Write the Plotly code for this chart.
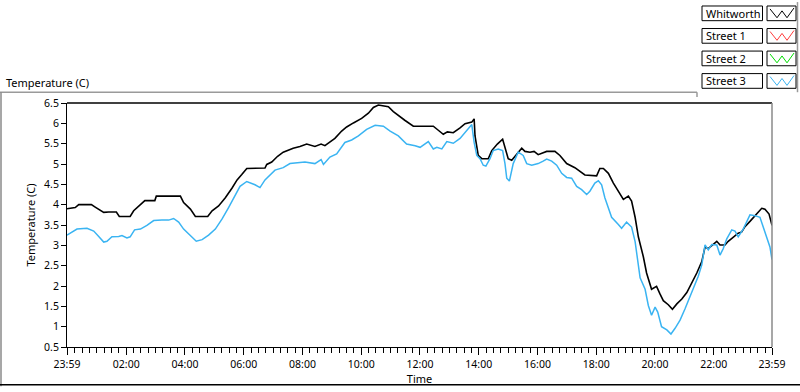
import plotly.graph_objects as go

# ---------------- data (hours after 23:59 start, temperature in C) ----------------
whitworth_t = [0, 0.28, 0.40, 0.83, 0.96, 1.13, 1.25, 1.42, 1.68, 1.78, 2.15, 2.27, 2.50, 2.65, 2.99,
               3.04, 3.86, 3.97, 4.20, 4.37, 4.79, 4.94, 5.16, 5.39, 5.62, 5.79, 5.95, 6.12, 6.74, 6.80,
               6.97, 7.17, 7.36, 7.70, 7.93, 8.16, 8.44, 8.65, 8.78, 8.90, 9.12, 9.35, 9.52, 9.75, 10.03,
               10.26, 10.43, 10.60, 10.94, 11.11, 11.28, 11.51, 11.79, 12.47, 12.64, 12.81, 12.95, 13.15,
               13.38, 13.55, 13.78, 13.86, 13.89, 13.95, 14.00, 14.12, 14.34, 14.46, 14.65, 14.83, 14.91,
               15.02, 15.14, 15.31, 15.48, 15.59, 15.76, 15.90, 16.04, 16.33, 16.61, 16.78, 17.01, 17.29,
               17.46, 17.63, 18.03, 18.14, 18.26, 18.43, 18.60, 18.83, 18.94, 19.11, 19.22, 19.34, 19.45,
               19.62, 19.73, 19.90, 20.07, 20.19, 20.30, 20.47, 20.61, 20.76, 20.93, 21.10, 21.27, 21.44,
               21.61, 21.72, 21.83, 22.00, 22.12, 22.23, 22.40, 22.51, 22.68, 22.85, 22.97, 23.08, 23.25,
               23.42, 23.56, 23.65, 23.76, 23.90, 24.00]
whitworth_v = [3.90, 3.93, 4.00, 4.00, 3.94, 3.86, 3.81, 3.82, 3.82, 3.71, 3.71, 3.85, 3.99, 4.10, 4.10,
               4.21, 4.21, 4.05, 3.89, 3.71, 3.71, 3.85, 3.97, 4.17, 4.41, 4.61, 4.74, 4.89, 4.90, 4.99,
               5.05, 5.19, 5.29, 5.39, 5.43, 5.49, 5.43, 5.49, 5.45, 5.51, 5.63, 5.81, 5.91, 6.01, 6.12,
               6.25, 6.39, 6.45, 6.41, 6.29, 6.19, 6.07, 5.93, 5.93, 5.83, 5.73, 5.79, 5.77,
               5.89, 5.99, 6.03, 6.11, 5.69, 5.45, 5.21, 5.13, 5.13, 5.33, 5.49, 5.61, 5.41,
               5.13, 5.09, 5.25, 5.39, 5.31, 5.29, 5.31, 5.23, 5.31, 5.31, 5.21, 5.01, 4.91,
               4.82, 4.73, 4.71, 4.89, 4.89, 4.77, 4.53, 4.25, 4.13, 4.21, 4.09, 3.69, 3.21,
               2.72, 2.32, 1.92, 1.99, 1.80, 1.64, 1.54, 1.43, 1.56, 1.68, 1.84, 2.08, 2.32,
               2.60, 2.96, 2.92, 3.04, 3.10, 3.01, 3.01, 3.10, 3.21, 3.30, 3.33, 3.46, 3.59,
               3.73, 3.85, 3.91, 3.89, 3.77, 3.49]

street3_t = [0, 0.17, 0.34, 0.68, 0.91, 1.08, 1.25, 1.36, 1.53, 1.76, 1.87, 2.04, 2.15, 2.30, 2.50,
             2.72, 2.95, 3.23, 3.46, 3.63, 3.80, 3.97, 4.20, 4.40, 4.60, 4.82, 5.05, 5.28, 5.50, 5.73,
             5.89, 6.12, 6.40, 6.57, 6.74, 7.08, 7.36, 7.59, 7.93, 8.10, 8.44, 8.65, 8.73, 8.95, 9.18,
             9.46, 9.69, 9.92, 10.20, 10.49, 10.77, 11.00, 11.28, 11.56, 11.85, 12.02, 12.30, 12.47,
             12.59, 12.76, 12.93, 13.15, 13.38, 13.61, 13.78, 13.86, 13.95, 14.06, 14.17, 14.26, 14.40,
             14.51, 14.68, 14.83, 14.91, 14.97, 15.06, 15.19, 15.36, 15.53, 15.65, 15.82, 16.04, 16.21,
             16.33, 16.50, 16.67, 16.84, 17.01, 17.18, 17.35, 17.52, 17.69, 17.80, 17.97, 18.09, 18.20,
             18.31, 18.43, 18.54, 18.77, 18.88, 19.05, 19.22, 19.34, 19.43, 19.51, 19.68, 19.79, 19.90,
             20.02, 20.11, 20.24, 20.42, 20.56, 20.70, 20.87, 21.04, 21.27, 21.49, 21.61, 21.72, 21.83,
             21.95, 22.12, 22.23, 22.34, 22.46, 22.63, 22.74, 22.85, 23.02, 23.25, 23.42, 23.59, 23.76,
             23.93, 24.00]
street3_v = [3.25, 3.33, 3.40, 3.42, 3.35, 3.22, 3.08, 3.10, 3.21, 3.22, 3.24, 3.18, 3.21, 3.38, 3.40,
             3.49, 3.61, 3.62, 3.62, 3.66, 3.57, 3.40, 3.25, 3.10, 3.14, 3.25, 3.40, 3.65, 3.93, 4.25,
             4.45, 4.57, 4.49, 4.42, 4.61, 4.85, 4.91, 5.01, 5.03, 5.05, 5.01, 5.11, 4.99, 5.17, 5.25,
             5.53, 5.59, 5.69, 5.85, 5.95, 5.93, 5.81, 5.69, 5.49, 5.45, 5.41, 5.55, 5.37,
             5.41, 5.37, 5.55, 5.51, 5.63, 5.81, 5.97, 5.53, 5.21, 5.13, 4.97, 4.95, 5.13,
             5.33, 5.37, 5.33, 5.01, 4.65, 4.58, 5.01, 5.29, 5.21, 5.01, 4.97, 5.01, 5.07,
             5.12, 5.07, 4.97, 4.77, 4.67, 4.65, 4.45, 4.37, 4.25, 4.33, 4.53, 4.59, 4.49,
             4.17, 3.93, 3.69, 3.51, 3.42, 3.57, 3.45, 3.09, 2.56, 2.20, 1.92, 1.52, 1.28,
             1.48, 1.36, 1.00, 0.92, 0.82, 0.96, 1.16, 1.44, 1.84, 2.24, 2.52, 3.01, 2.89,
             3.02, 3.01, 2.76, 2.92, 3.16, 3.38, 3.35, 3.21, 3.40, 3.75, 3.73, 3.69, 3.33,
             2.96, 2.65]

series_names = ["Whitworth", "Street 1", "Street 2", "Street 3"]
series_colors = ["#000000", "#ff3b3b", "#00dd00", "#3ab4f2"]

x_tick_vals = [0] + [h + 1 / 60 for h in range(2, 24, 2)] + [24]
x_tick_text = ["23:59"] + ["%02d:00" % h for h in range(2, 24, 2)] + ["23:59"]
y_tick_vals = [0.5 * i for i in range(1, 14)]
y_tick_text = [("%g" % v) for v in y_tick_vals]

FONT = "Noto Sans"
W, H = 800, 392
ML, MR, MT, MB = 67, 28, 103, 40

fig = go.Figure()
fig.add_trace(go.Scatter(x=whitworth_t, y=whitworth_v, mode="lines", name=series_names[0],
                         line=dict(color=series_colors[0], width=1.6), showlegend=False))
fig.add_trace(go.Scatter(x=street3_t, y=street3_v, mode="lines", name=series_names[3],
                         line=dict(color=series_colors[3], width=1.5), showlegend=False))

fig.update_layout(
    width=W, height=H,
    margin=dict(l=ML, r=MR, t=MT, b=MB),
    paper_bgcolor="white", plot_bgcolor="white",
    font=dict(family=FONT, size=10.5, color="black"),
    xaxis=dict(range=[0, 24], tickmode="array", tickvals=x_tick_vals, ticktext=x_tick_text,
               showgrid=False, zeroline=False, showline=True, linecolor="black", linewidth=1,
               ticks="outside", ticklen=7, tickcolor="black", tickwidth=1,
               minor=dict(tick0=1 / 60, dtick=0.25, ticks="outside", ticklen=5, tickcolor="black"),
               title=dict(text="Time", standoff=2, font=dict(size=11))),
    yaxis=dict(range=[0.5, 6.5], tickmode="array", tickvals=y_tick_vals, ticktext=y_tick_text,
               showgrid=False, zeroline=False, showline=True, linecolor="black", linewidth=1,
               ticks="outside", ticklen=5, tickcolor="black",
               title=dict(text="Temperature (C)", standoff=6, font=dict(size=11))),
)

shapes = []
shapes.append(dict(type="line", xref="paper", yref="paper", x0=0, x1=1, y0=1, y1=1,
                   line=dict(color="black", width=1.5)))
shapes.append(dict(type="line", xref="paper", yref="paper", x0=1, x1=1, y0=0, y1=1,
                   line=dict(color="#8a8a8a", width=1.5)))


def frame_line(x0, y0, x1, y1, color, width=1.5):
    shapes.append(dict(type="line", xref="paper", yref="paper",
                       x0=(x0 - ML) / (W - ML - MR), x1=(x1 - ML) / (W - ML - MR),
                       y0=(H - MB - y0) / (H - MT - MB), y1=(H - MB - y1) / (H - MT - MB),
                       line=dict(color=color, width=width)))


frame_line(0, 92, 697, 92, "#9a9a9a")
frame_line(1, 92, 1, 392, "#8a8a8a")
frame_line(0, 390.5, 800, 390.5, "black", 1.5)
frame_line(797.5, 0, 797.5, 92, "#9a9a9a")
frame_line(697, 92, 697, 97, "#9a9a9a")

annotations = []
annotations.append(dict(text="Temperature (C)", xref="paper", yref="paper",
                        x=(4 - ML) / (W - ML - MR), y=(H - MB - 82) / (H - MT - MB),
                        xanchor="left", yanchor="middle", showarrow=False,
                        font=dict(family=FONT, size=11, color="black")))

for i, (name, color) in enumerate(zip(series_names, series_colors)):
    top = 4 + 23 * i
    bot = top + 15
    frame_line(702, top, 762.5, top, "black", 1)
    frame_line(702, bot, 762.5, bot, "black", 1)
    frame_line(702, top, 702, bot, "black", 1)
    frame_line(762.5, top, 762.5, bot, "black", 1)
    frame_line(767, top, 796, top, "black", 1)
    frame_line(767, bot, 796, bot, "black", 1)
    frame_line(767, top, 767, bot, "black", 1)
    frame_line(796, top, 796, bot, "black", 1)
    zx = [770, 777, 782, 787, 794]
    zy = [top + 3, bot - 3, top + 5, bot - 3, top + 2]
    for k in range(4):
        frame_line(zx[k], zy[k], zx[k + 1], zy[k + 1], color, 1)
    annotations.append(dict(text=name, xref="paper", yref="paper",
                            x=(704 - ML) / (W - ML - MR), y=(H - MB - (top + bot) / 2) / (H - MT - MB),
                            xanchor="left", yanchor="middle", showarrow=False,
                            font=dict(family=FONT, size=11, color="black")))

fig.update_layout(shapes=shapes, annotations=annotations)

fig.write_html("out.html", config={"displayModeBar": False},
               post_script="document.body.style.margin='0';document.body.style.overflow='hidden';")
